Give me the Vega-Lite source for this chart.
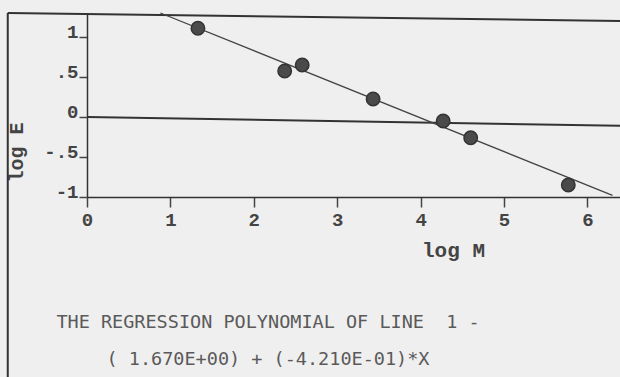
{
  "$schema": "https://vega.github.io/schema/vega-lite/v6.json",
  "width": 533,
  "height": 184,
  "autosize": {"type": "none"},
  "padding": {"left": 87, "top": 13, "right": 0, "bottom": 180},
  "background": "#efefef",
  "config": {
    "view": {"stroke": null},
    "axis": {"grid": false}
  },
  "title": {
    "text": "THE REGRESSION POLYNOMIAL OF LINE\u00a0 1 -",
    "subtitle": "( 1.670E+00) + (-4.210E-01)*X",
    "orient": "bottom",
    "anchor": "start",
    "align": "center",
    "frame": "group",
    "dx": 181,
    "offset": -69,
    "font": "DejaVu Sans Mono",
    "fontSize": 18.5,
    "fontWeight": "normal",
    "color": "#5a5a5a",
    "subtitleFont": "DejaVu Sans Mono",
    "subtitleFontSize": 18.5,
    "subtitleColor": "#5a5a5a",
    "subtitlePadding": 18
  },
  "datasets": {
    "points": [
      {"logM": 1.33, "logE": 1.11},
      {"logM": 2.37, "logE": 0.575},
      {"logM": 2.58, "logE": 0.65},
      {"logM": 3.43, "logE": 0.225},
      {"logM": 4.27, "logE": -0.05},
      {"logM": 4.6, "logE": -0.26},
      {"logM": 5.77, "logE": -0.85}
    ],
    "fit": [
      {"logM": 0.88, "logE": 1.3},
      {"logM": 6.3, "logE": -0.98}
    ],
    "frame": [
      {"x": -0.95, "x2": 6.39, "y": 1.3, "y2": 1.2},
      {"x": -0.95, "x2": -0.95, "y": 1.3, "y2": -3.3}
    ],
    "zero": [
      {"x": 0, "x2": 6.39, "y": 0.0, "y2": -0.11}
    ]
  },
  "layer": [
    {
      "data": {"name": "frame"},
      "mark": {"type": "rule", "color": "#333333", "strokeWidth": 2, "clip": false},
      "encoding": {
        "x": {"field": "x", "type": "quantitative", "scale": {"domain": [0, 6.39], "nice": false, "zero": false},
          "axis": {
            "values": [0, 1, 2, 3, 4, 5, 6],
            "format": "d",
            "title": "log M",
            "titleFont": "Liberation Mono",
            "titleFontWeight": "bold",
            "titleFontSize": 21,
            "titleColor": "#444444",
            "titleX": 366,
            "titleY": 59,
            "titleAlign": "center",
            "titleBaseline": "alphabetic",
            "labelFont": "Liberation Mono",
            "labelFontWeight": "bold",
            "labelFontSize": 19,
            "labelColor": "#444444",
            "labelPadding": 3,
            "labelFlush": false,
            "labelOverlap": false,
            "tickSize": 10,
            "tickColor": "#444444",
            "tickWidth": 1.5,
            "domainColor": "#333333",
            "domainWidth": 1.5
          }},
        "x2": {"field": "x2"},
        "y": {"field": "y", "type": "quantitative", "scale": {"domain": [-1, 1.3], "nice": false, "zero": false},
          "axis": {
            "values": [-1, -0.5, 0, 0.5, 1],
            "labelExpr": "datum.value == 1 ? '1' : datum.value == 0.5 ? '.5' : datum.value == 0 ? '0' : datum.value == -0.5 ? '-.5' : '-1'",
            "title": "log E",
            "titleFont": "Liberation Mono",
            "titleFontWeight": "bold",
            "titleFontSize": 20,
            "titleColor": "#444444",
            "titleX": -71,
            "titleY": 139,
            "titleAngle": -90,
            "titleAlign": "center",
            "titleBaseline": "middle",
            "labelFont": "Liberation Mono",
            "labelFontWeight": "bold",
            "labelFontSize": 19,
            "labelColor": "#444444",
            "labelBaseline": "alphabetic",
            "labelPadding": 1,
            "labelFlush": false,
            "labelOverlap": false,
            "tickSize": 8,
            "tickColor": "#444444",
            "tickWidth": 1.5,
            "domainColor": "#333333",
            "domainWidth": 1.5
          }},
        "y2": {"field": "y2"}
      }
    },
    {
      "data": {"name": "zero"},
      "mark": {"type": "rule", "color": "#333333", "strokeWidth": 2},
      "encoding": {
        "x": {"field": "x", "type": "quantitative"},
        "x2": {"field": "x2"},
        "y": {"field": "y", "type": "quantitative"},
        "y2": {"field": "y2"}
      }
    },
    {
      "data": {"name": "fit"},
      "mark": {"type": "line", "color": "#444444", "strokeWidth": 1.3},
      "encoding": {
        "x": {"field": "logM", "type": "quantitative"},
        "y": {"field": "logE", "type": "quantitative"}
      }
    },
    {
      "data": {"name": "points"},
      "mark": {"type": "circle", "size": 180, "color": "#4a4a4a", "opacity": 1, "stroke": "#333333", "strokeWidth": 1.5},
      "encoding": {
        "x": {"field": "logM", "type": "quantitative"},
        "y": {"field": "logE", "type": "quantitative"}
      }
    }
  ]
}
